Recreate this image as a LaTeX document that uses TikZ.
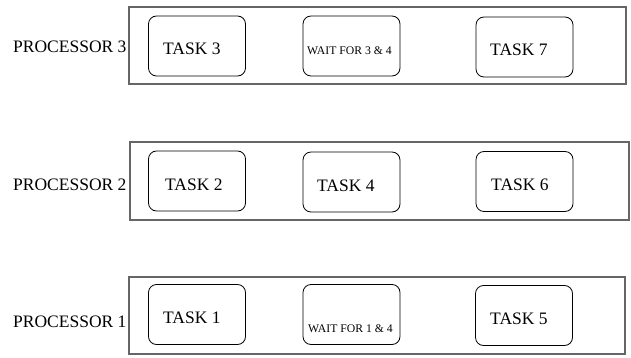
\documentclass[tikz,border=0pt]{standalone}
\usepackage{fontspec}
\setmainfont{Liberation Serif}
\begin{document}
\begin{tikzpicture}[x=1pt,y=-1pt,
  procbox/.style={draw=black!60,line width=1.1pt,rectangle,inner sep=0pt},
  taskbox/.style={draw=black,line width=0.8pt,rectangle,rounded corners=8pt,inner sep=0pt,minimum width=97pt,minimum height=60pt},
  bigtxt/.style={inner sep=0pt,anchor=base west,font=\fontsize{17.5}{20}\selectfont},
  smalltxt/.style={inner sep=0pt,anchor=base west,font=\fontsize{11.7}{14}\selectfont}]
\useasboundingbox (0,0) rectangle (631,358);
% processor frames
\node[procbox,minimum width=497pt,minimum height=77pt] (p3) at (377.5,45.5) {};
\node[procbox,minimum width=499pt,minimum height=78pt] (p2) at (379.5,181) {};
\node[procbox,minimum width=496pt,minimum height=77pt] (p1) at (377,315.5) {};
% task boxes
\node[taskbox] (b3) at (197,46) {};
\node[taskbox] (bw34) at (351.5,46) {};
\node[taskbox] (b7) at (524.5,47) {};
\node[taskbox] (b2) at (197,181) {};
\node[taskbox] (b4) at (351.5,182) {};
\node[taskbox] (b6) at (524.5,181.5) {};
\node[taskbox] (b1) at (197,314.5) {};
\node[taskbox] (bw14) at (351.5,314.5) {};
\node[taskbox] (b5) at (524,315.5) {};
% labels
\node[bigtxt] (l3) at (13,53) {PROCESSOR 3};
\node[bigtxt] (l2) at (13,190) {PROCESSOR 2};
\node[bigtxt] (l1) at (13,327) {PROCESSOR 1};
\node[bigtxt] (t3) at (163,55) {TASK 3};
\node[smalltxt] (tw34) at (307,55) {WAIT FOR 3 \& 4};
\node[bigtxt] (t7) at (490,56) {TASK 7};
\node[bigtxt] (t2) at (165,190) {TASK 2};
\node[bigtxt] (t4) at (317,191) {TASK 4};
\node[bigtxt] (t6) at (491,190) {TASK 6};
\node[bigtxt] (t1) at (163,323) {TASK 1};
\node[smalltxt] (tw14) at (308,332) {WAIT FOR 1 \& 4};
\node[bigtxt] (t5) at (490,324) {TASK 5};
\end{tikzpicture}
\end{document}
